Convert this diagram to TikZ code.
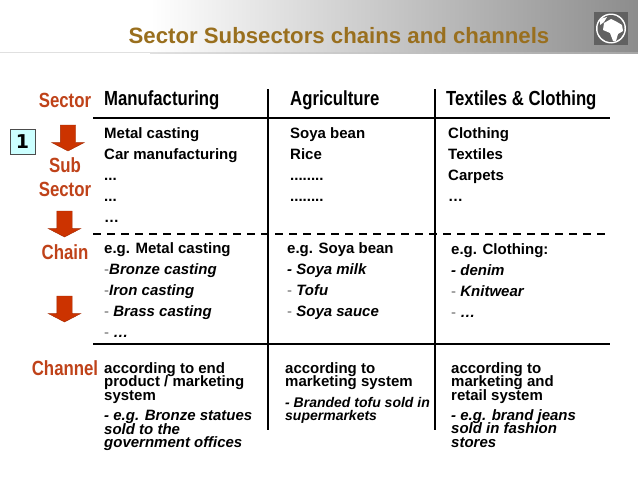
\documentclass[tikz,border=0pt]{standalone}
\usepackage{fontspec}
\setmainfont{Liberation Sans}
\newfontfamily\narrowfont[FakeStretch=0.82]{Liberation Sans}
\newfontfamily\boxfont{DejaVu Sans}
\usetikzlibrary{shapes.arrows}
\lineskiplimit=-10pt
\definecolor{titlebrown}{HTML}{996F1E}
\definecolor{labelred}{HTML}{BF4219}
\definecolor{arrowred}{HTML}{CC3300}
\definecolor{boxcyan}{HTML}{CCFFFF}
\tikzstyle{label}=[text=labelred,inner sep=0pt,align=center,font=\narrowfont\fontsize{20.5}{24}\selectfont\bfseries]
\tikzstyle{head}=[anchor=west,inner sep=0pt,font=\narrowfont\fontsize{20.4}{24}\selectfont\bfseries]
\tikzstyle{cell}=[anchor=north west,inner sep=0pt,align=left,font=\fontsize{15}{21}\selectfont\bfseries]
\tikzstyle{tight}=[anchor=north west,inner sep=0pt,align=left,font=\fontsize{15}{13.7}\selectfont\bfseries]
\tikzstyle{down}=[single arrow,draw=arrowred!80!black,fill=arrowred,rotate=-90,minimum height=26pt,inner xsep=0pt,inner ysep=7.5pt,single arrow head extend=8.5pt,single arrow tip angle=125]
\tikzstyle{rule}=[line width=2pt,color=black]
\newcommand{\thindash}{\textcolor{black!60}{\textmd{-}}}
\begin{document}
\begin{tikzpicture}[x=1pt,y=-1pt]
\useasboundingbox (0,0) rectangle (638,479);

\shade [left color=white,right color=black!45] (150,0) rectangle (638,52);
\draw [black!12,line width=1.2pt] (0,52.5) -- (150,52.5);
\shade [left color=black!12,right color=black!35] (150,52) rectangle (638,53);

\node (title) [anchor=center,inner sep=0pt,text=titlebrown,font=\fontsize{22.2}{26}\selectfont\bfseries] at (339,36) {Sector Subsectors chains and channels};

\fill [black!62] (594,12) rectangle (628,45);
\fill [white] (611,28.5) circle (15);
\fill [black!62] (611,28.5) circle (13.5);
\fill [white] (604,23) -- (611,19) -- (617,22) -- (622,25) -- (623,31) -- (618,34) -- (616,41) -- (613,41) -- (610,33) -- (603,30) -- cycle;
\fill [white] (600,19) -- (607,17) -- (604,22) -- (600,25) -- cycle;

\node (one) [draw=black!70,fill=boxcyan,line width=.8pt,minimum size=25pt,inner sep=0pt,font=\boxfont\fontsize{19}{22}\selectfont\bfseries] at (22.5,142) {1};

\node (sector) [label] at (65,100) {Sector};
\node (subsector) [label] at (65,177) {Sub\\Sector};
\node (chain) [label] at (65,252) {Chain};
\node (channel) [label] at (65,368) {Channel};

\node (arrow1) [down] at (68,136) {};
\node (arrow2) [down] at (64.5,222) {};
\node (arrow3) [down] at (64.5,307) {};

\node (manu) [head] at (104,100) {Manufacturing};
\node (agri) [head] at (290,100) {Agriculture};
\node (text) [head] at (446,100) {Textiles \& Clothing};

\draw [rule] (93,118.3) -- (610,118.3);
\draw [rule] (93,344.3) -- (610,344.3);
\draw [rule,dash pattern=on 8pt off 6pt] (93,234) -- (610,234);
\draw [rule] (268.3,89) -- (268.3,430);
\draw [rule] (434.7,89) -- (434.7,430);

\node (sub1) [cell] at (104,127) {Metal casting\\Car manufacturing\\...\\...\\\dots};
\node (sub2) [cell] at (290,127) {Soya bean\\Rice\\........\\........};
\node (sub3) [cell] at (448,127) {Clothing\\Textiles\\Carpets\\\dots};

\node (chain1) [cell] at (104,242) {e.g. Metal casting\\\thindash\textit{Bronze casting}\\\thindash\textit{Iron casting}\\\thindash{} \textit{Brass casting}\\\thindash{} \textit{\dots}};
\node (chain2) [cell] at (287,242) {e.g. Soya bean\\\textit{- Soya milk}\\\thindash{} \textit{Tofu}\\\thindash{} \textit{Soya sauce}};
\node (chain3) [cell] at (451,243) {e.g. Clothing:\\\textit{- denim}\\\thindash{} \textit{Knitwear}\\\thindash{} \textit{\dots}};

\node (chan1a) [tight] at (104,362) {according to end\\product / marketing\\system};
\node (chan1b) [tight] at (104,410) {\textit{- e.g. Bronze statues}\\\textit{sold to the}\\\textit{government offices}};
\node (chan2a) [tight] at (285,362) {according to\\marketing system};
\node (chan2b) [tight,font=\fontsize{14}{13}\selectfont\bfseries] at (285,397.5) {\textit{- Branded tofu sold in}\\\textit{supermarkets}};
\node (chan3a) [tight] at (451,362) {according to\\marketing and\\retail system};
\node (chan3b) [tight] at (451,409) {\textit{- e.g. brand jeans}\\\textit{sold in fashion}\\\textit{stores}};

\end{tikzpicture}
\end{document}
